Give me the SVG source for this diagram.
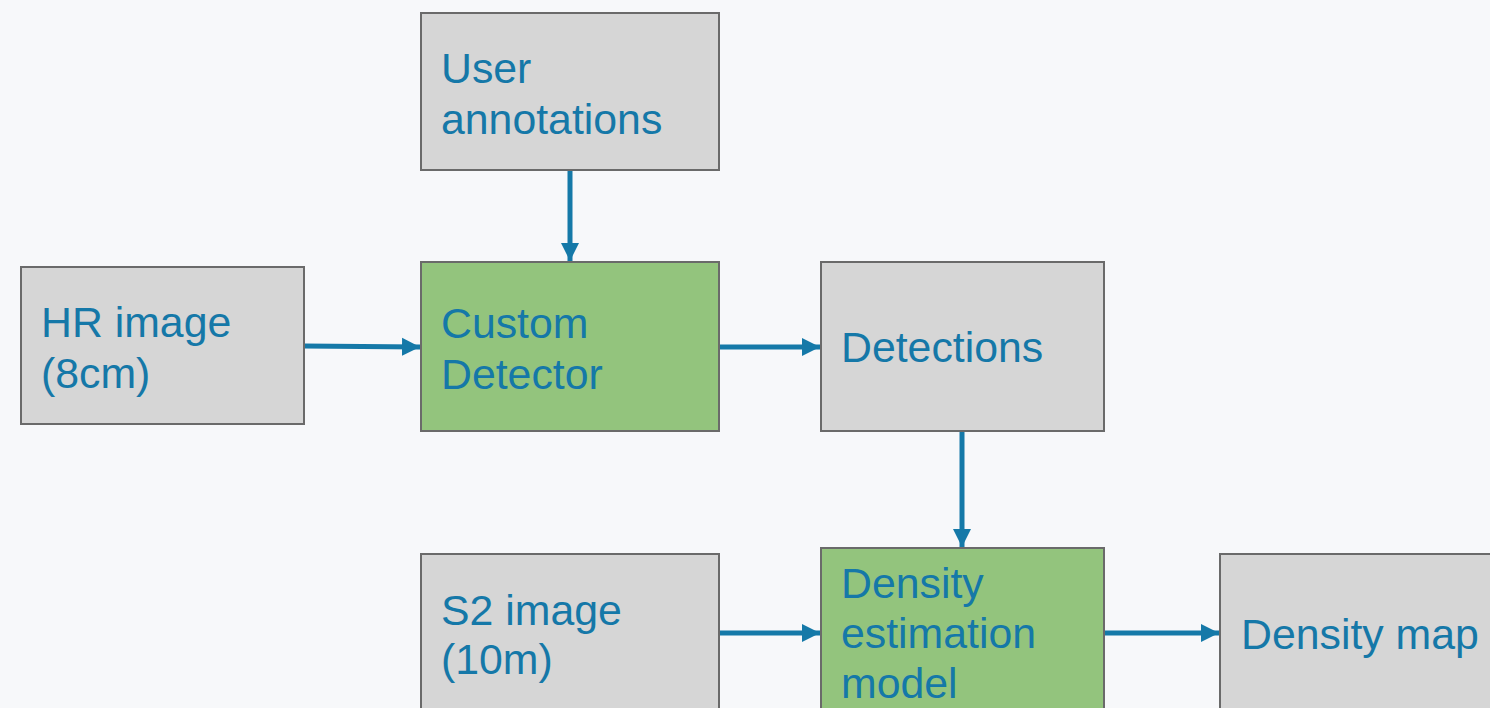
<svg xmlns="http://www.w3.org/2000/svg" width="1490" height="708" viewBox="0 0 1490 708">
<style>
.box{stroke:#6a6a6a;stroke-width:2}
.grey{fill:#d6d6d6}
.green{fill:#93c47d}
.lbl{font-family:"Liberation Sans",Arial,sans-serif;font-size:42.8px;fill:#1578a8}
.conn{stroke:#1579a8;stroke-width:5;fill:none}
</style>
<defs>
<marker id="arr" markerUnits="userSpaceOnUse" markerWidth="19" markerHeight="19" refX="18" refY="9.5" orient="auto">
<path d="M0,0.5 L18,9.5 L0,18.5 Z" fill="#1579a8"/>
</marker>
</defs>
<rect width="1490" height="708" fill="#f7f8fa"/>
<g id="connectors">
<path class="conn" d="M570,170 L570,261" marker-end="url(#arr)"/>
<path class="conn" d="M304,346 L420,347" marker-end="url(#arr)"/>
<path class="conn" d="M719,347 L820,347" marker-end="url(#arr)"/>
<path class="conn" d="M962,431 L962,547" marker-end="url(#arr)"/>
<path class="conn" d="M719,633 L820,633" marker-end="url(#arr)"/>
<path class="conn" d="M1104,633 L1219,633" marker-end="url(#arr)"/>
</g>
<g id="user-annotations">
<rect class="box grey" x="421" y="13" width="298" height="157"/>
<text class="lbl" x="441" y="83">User</text>
<text class="lbl" x="441" y="134">annotations</text>
</g>
<g id="hr-image">
<rect class="box grey" x="21" y="267" width="283" height="157"/>
<text class="lbl" x="41" y="337">HR image</text>
<text class="lbl" x="41" y="388">(8cm)</text>
</g>
<g id="custom-detector">
<rect class="box green" x="421" y="262" width="298" height="169"/>
<text class="lbl" x="441" y="338">Custom</text>
<text class="lbl" x="441" y="389">Detector</text>
</g>
<g id="detections">
<rect class="box grey" x="821" y="262" width="283" height="169"/>
<text class="lbl" x="841" y="362">Detections</text>
</g>
<g id="s2-image">
<rect class="box grey" x="421" y="554" width="298" height="170"/>
<text class="lbl" x="441" y="625">S2 image</text>
<text class="lbl" x="441" y="674">(10m)</text>
</g>
<g id="density-estimation">
<rect class="box green" x="821" y="548" width="283" height="180"/>
<text class="lbl" x="841" y="598">Density</text>
<text class="lbl" x="841" y="648">estimation</text>
<text class="lbl" x="841" y="698">model</text>
</g>
<g id="density-map">
<rect class="box grey" x="1220" y="554" width="290" height="170"/>
<text class="lbl" x="1241" y="649">Density map</text>
</g>
</svg>
